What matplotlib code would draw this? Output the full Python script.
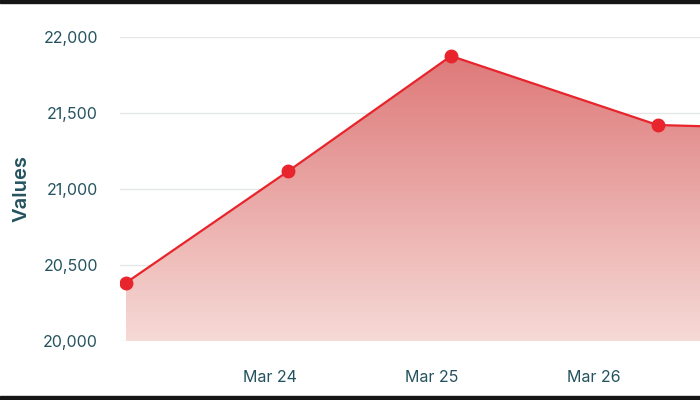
import numpy as np
import pandas as pd
import matplotlib
matplotlib.use("Agg")
import matplotlib.pyplot as plt
import matplotlib.dates as mdates
from matplotlib.colors import LinearSegmentedColormap
from matplotlib.patches import Rectangle

# data
times = ["2024-03-23 02:40", "2024-03-24 02:43", "2024-03-25 02:49",
         "2024-03-26 09:25", "2024-03-27 02:40"]
values = [20383, 21118, 21875, 21421, 21400]
y_ticks = [20000, 20500, 21000, 21500, 22000]

x = mdates.date2num(pd.to_datetime(times))
text_col = "#24535f"
red = "#e8242c"

plt.rcParams["font.family"] = ["Inter", "DejaVu Sans"]

fig = plt.figure(figsize=(7, 4), dpi=100)
ax = fig.add_axes([120 / 700, 1 - 341 / 400, 580 / 700, 304 / 400])

mar24 = mdates.date2num(pd.Timestamp("2024-03-24"))

# gradient area under the line
poly = ax.fill_between(x, values, 20000, color="none", lw=0)
cmap = LinearSegmentedColormap.from_list("fade", ["#f6d8d4", "#dc7070"])
grad = np.linspace(0, 1, 256).reshape(-1, 1)
img = ax.imshow(grad, cmap=cmap, origin="lower", aspect="auto", alpha=0.94,
                extent=[x[0], x[-1], 20000, max(values)], zorder=1)
img.set_clip_path(poly.get_paths()[0], transform=ax.transData)

ax.plot(x, values, color=red, lw=1.6, zorder=3)
ax.plot(x, values, "o", color=red, ms=9, zorder=4)

ax.set_xlim(mar24 - 150 / 162, mar24 + 430 / 162)
ax.set_ylim(20000, 22000)
ax.set_yticks(y_ticks)
ax.set_yticklabels([f"{v:,}" for v in y_ticks])
ax.xaxis.set_major_locator(mdates.DayLocator())
ax.xaxis.set_major_formatter(mdates.DateFormatter("%b %d"))
ax.tick_params(axis="both", length=0, labelsize=11.5, colors=text_col)
ax.tick_params(axis="y", pad=16)
ax.tick_params(axis="x", pad=21)
ax.grid(axis="y", color="#e4e6e8", lw=1)
ax.set_axisbelow(True)
for s in ax.spines.values():
    s.set_visible(False)
ax.set_ylabel("Values", fontsize=14.5, color=text_col, fontweight="semibold", labelpad=9)

# dark screenshot edges
fig.add_artist(Rectangle((0, 1 - 3 / 400), 1, 3 / 400, transform=fig.transFigure, color="#151515"))
fig.add_artist(Rectangle((0, 0), 1, 4 / 400, transform=fig.transFigure, color="#151515"))

fig.savefig("out.png", dpi=100)
